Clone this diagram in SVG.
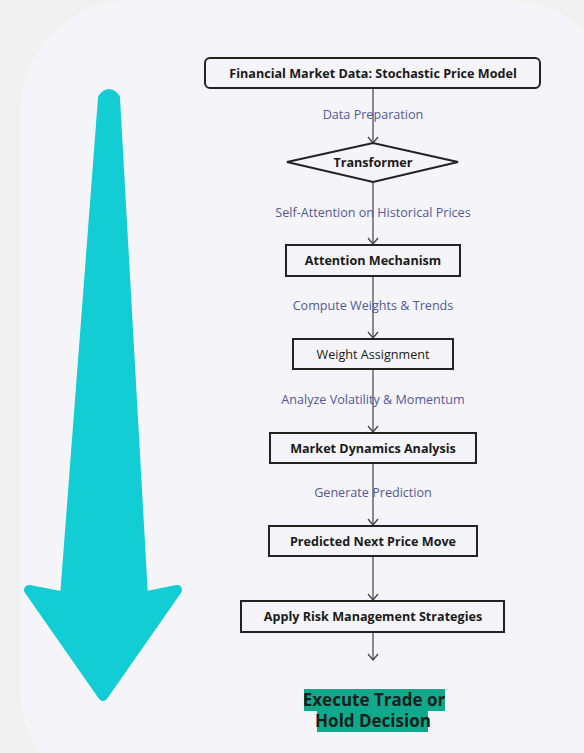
<svg xmlns="http://www.w3.org/2000/svg" width="584" height="753" viewBox="0 0 584 753">
<defs>
<style>
.node{fill:none;stroke:#222;stroke-width:2}
.t{font-family:"Open Sans","Liberation Sans",sans-serif;font-size:12.6px;fill:#1a1a1a;text-anchor:middle;dominant-baseline:central}
.b{font-weight:700}
.lbl{font-family:"Open Sans","Liberation Sans",sans-serif;font-size:12.6px;fill:#52589c;text-anchor:middle;dominant-baseline:central}
.edge{stroke:#444;stroke-width:1.2;fill:none}
</style>
<marker id="ah" markerWidth="10" markerHeight="12" refX="8" refY="6" orient="auto" markerUnits="userSpaceOnUse" viewBox="0 0 10 12">
<path d="M2,1 L8,6 L2,11" fill="none" stroke="#444" stroke-width="1.3"/>
</marker>
</defs>
<rect width="584" height="753" fill="#f1f1f1"/>
<rect x="20" y="1" width="600" height="800" rx="110" fill="#f5f5f9"/>
<g id="big-arrow">
<path d="M103,98 Q109,90 115,98 L143,597 L177,590 L103,696 L29,590 L65,597 Z" fill="#13cdd4" stroke="#13cdd4" stroke-width="10" stroke-linejoin="round"/>
</g>
<g id="connectors">
<line class="edge" x1="373" y1="88" x2="373" y2="143" marker-end="url(#ah)"/>
<line class="edge" x1="373" y1="182" x2="373" y2="244" marker-end="url(#ah)"/>
<line class="edge" x1="373" y1="276" x2="373" y2="338" marker-end="url(#ah)"/>
<line class="edge" x1="373" y1="369" x2="373" y2="432" marker-end="url(#ah)"/>
<line class="edge" x1="373" y1="463" x2="373" y2="525" marker-end="url(#ah)"/>
<line class="edge" x1="373" y1="556" x2="373" y2="600" marker-end="url(#ah)"/>
<line class="edge" x1="373" y1="632" x2="373" y2="660" marker-end="url(#ah)"/>
<text class="lbl" x="373" y="114">Data Preparation</text>
<text class="lbl" x="373" y="212">Self-Attention on Historical Prices</text>
<text class="lbl" x="373" y="305">Compute Weights &amp; Trends</text>
<text class="lbl" x="373" y="399">Analyze Volatility &amp; Momentum</text>
<text class="lbl" x="373" y="492">Generate Prediction</text>
</g>
<g id="n1">
<rect class="node" x="205" y="58" width="335" height="30" rx="5"/>
<text class="t b" x="373" y="73">Financial Market Data: Stochastic Price Model</text>
</g>
<g id="n2">
<polygon class="node" points="287,162 373,143 458,162 373,182"/>
<text class="t b" x="373" y="162">Transformer</text>
</g>
<g id="n3">
<rect class="node" x="286" y="245" width="174" height="31"/>
<text class="t b" x="373" y="260.5">Attention Mechanism</text>
</g>
<g id="n4">
<rect class="node" x="293" y="339" width="160" height="30"/>
<text class="t" x="373" y="354">Weight Assignment</text>
</g>
<g id="n5">
<rect class="node" x="270" y="433" width="206" height="30"/>
<text class="t b" x="373" y="448">Market Dynamics Analysis</text>
</g>
<g id="n6">
<rect class="node" x="269" y="526" width="208" height="30"/>
<text class="t b" x="373" y="541">Predicted Next Price Move</text>
</g>
<g id="n7">
<rect class="node" x="241" y="601" width="263" height="31"/>
<text class="t b" x="373" y="616.5">Apply Risk Management Strategies</text>
</g>
<g id="n8">
<rect x="304" y="689" width="141" height="22" fill="#10a98b"/>
<rect x="317" y="711" width="111" height="21" fill="#10a98b"/>
<text x="374" y="706" font-family="'Open Sans','Liberation Sans',sans-serif" font-size="17" font-weight="700" fill="#14211f" text-anchor="middle">Execute Trade or</text>
<text x="373" y="727" font-family="'Open Sans','Liberation Sans',sans-serif" font-size="17" font-weight="700" fill="#14211f" text-anchor="middle">Hold Decision</text>
</g>
</svg>
